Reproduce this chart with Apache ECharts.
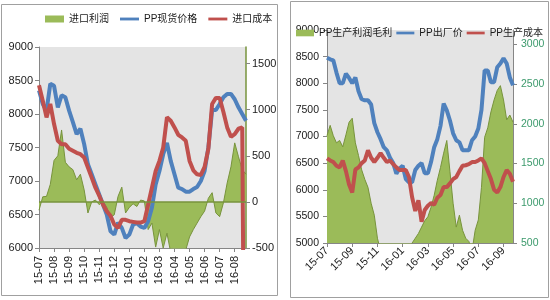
<!DOCTYPE html>
<html><head><meta charset="utf-8">
<script src="https://cdn.jsdelivr.net/npm/echarts@6/dist/echarts.min.js"></script>
<style>html,body{margin:0;padding:0;background:#fff}#c{width:550px;height:300px}</style>
</head><body><div id="c"></div>
<script>
// ---------- data ----------
const leftMonths = ['15-07','15-08','15-09','15-10','15-11','15-12','16-01','16-02','16-03','16-04','16-05','16-06','16-07','16-08'];
const rightMonths = ['15-07','15-08','15-09','15-10','15-11','15-12','16-01','16-02','16-03','16-04','16-05','16-06','16-07','16-08','16-09'];
const pointsPerMonth = 4;

// left panel (weekly)
const importProfit = [-90,55,60,190,450,500,780,430,380,350,240,300,130,-120,0,20,-30,10,-60,-170,-140,60,160,-120,-60,-20,-50,20,10,-300,-230,-490,-300,-500,-340,-550,-550,-520,-550,-520,-380,-300,-230,-160,-100,40,100,-120,-160,-10,205,380,640,490,350,300];
const spotPrice = [8350,8150,8050,8450,8420,8100,8280,8250,8050,7880,7700,7780,7550,7250,7100,6950,6800,6650,6500,6250,6200,6380,6300,6150,6200,6350,6370,6320,6300,6400,6600,6950,7150,7400,7570,7300,7100,6900,6880,6840,6840,6880,6910,7000,7150,7500,8060,8060,8150,8250,8300,8300,8220,8100,8000,7900];
const importCost = [8430,8200,7950,8150,7850,7600,7550,7550,7480,7450,7420,7400,7350,7200,7050,6900,6780,6650,6550,6480,6350,6300,6420,6420,6400,6390,6380,6380,6400,6650,6900,7150,7300,7500,7950,7900,7800,7690,7650,7600,7300,7160,7100,7090,7210,7480,8150,8240,8240,8030,7800,7660,7700,7780,7800,0];

// right panel (weekly)
const prodProfit = [1850,1980,1850,1760,1790,1710,1860,2020,2070,1760,1600,1420,1300,1200,1000,850,560,400,300,250,200,250,200,300,350,300,400,500,560,620,700,780,830,950,1100,1290,1450,1630,1790,1400,1000,700,850,660,560,520,400,660,790,1200,1830,1950,2150,2300,2420,2480,2300,2050,2110,2020];
const exWorksPrice = [8480,8450,8430,8200,8000,8000,8180,8100,8000,8110,7850,7700,7680,7680,7600,7250,7080,6950,6800,6740,6600,6500,6300,6400,6450,6200,6140,6140,6370,6450,6500,6310,6310,6520,6800,6950,7200,7620,7490,7300,7060,6930,6890,6740,6740,6740,6930,7000,7150,7500,8240,8240,8020,8020,8300,8370,8470,8370,8110,7960];
const prodCost = [6590,6550,6520,6450,6420,6550,6350,6100,5950,6380,6420,6500,6550,6740,6600,6520,6600,6690,6600,6520,6550,6480,6420,6370,6370,6370,6240,5860,5600,5800,5400,5620,5700,5750,5720,5850,5900,6050,6050,6120,6200,6240,6350,6450,6460,6480,6520,6520,6550,6590,6500,6350,6200,6000,5950,6050,6240,6370,6300,6150];

// axis ticks
const leftYTicks = {min:6000, max:9000, interval:500};
const leftY2Ticks = {min:-500, max:1680, interval:500};
const rightYTicks = {min:5000, max:9000, interval:500};
const rightY2Ticks = {min:500, max:3180, interval:500};

// ---------- build ----------
const mkCats = (months, n) => months.flatMap(m => Array.from({length:pointsPerMonth},(_,k)=>m+'|'+k)).slice(0,n);
const leftCats = mkCats(leftMonths, importProfit.length);
const rightCats = mkCats(rightMonths, prodProfit.length);

const FONT = '"Liberation Sans", Arial, "Noto Sans CJK SC", sans-serif';
const GREEN = '#9bbb59', GREEN_D = '#77933c', BLUE = '#4f81bd', RED = '#c0504d';
const TXT = '#1a1a1a';
const lineIcon = 'path://M0,0H20V3H0Z';
const rectIcon = 'path://M0,0H19V7H0Z';
const plain = v => String(v);

const chart = echarts.init(document.getElementById('c'), null, {renderer:'canvas'});
const yAxisBase = (t, pos, grid, labelExtra, extra) => Object.assign({
  type:'value', gridIndex:grid, position:pos, min:t.min, max:t.max, interval:t.interval,
  splitLine:{show:false},
  axisLine:{show:true, lineStyle:{color:'#868686', width:1}},
  axisTick:{show:true, inside:false, length:4, lineStyle:{color:'#868686'}},
  axisLabel:Object.assign({color:TXT, fontSize:11, fontFamily:FONT, margin:6, formatter:plain}, labelExtra||{})
}, extra||{});

chart.setOption({
  animation:false,
  backgroundColor:'#fff',
  textStyle:{fontFamily:FONT},
  graphic:[
    {type:'rect', shape:{x:1.5,y:4.5,width:276,height:291}, style:{fill:'none', stroke:'#a0a0a0', lineWidth:1}, z:-10},
    {type:'rect', shape:{x:290.5,y:1.5,width:258,height:296}, style:{fill:'none', stroke:'#a0a0a0', lineWidth:1}, z:-10}
  ],
  legend:[
    {left:45, top:14, width:240, itemWidth:19, itemHeight:8, itemGap:11, padding:0,
     textStyle:{fontSize:10, color:TXT, fontFamily:FONT},
     data:[{name:'进口利润', icon:rectIcon},{name:'PP现货价格', icon:lineIcon},{name:'进口成本', icon:lineIcon}]},
    {left:296, top:28, width:300, itemWidth:18, itemHeight:8, itemGap:4, padding:0,
     textStyle:{fontSize:10, color:TXT, fontFamily:FONT},
     data:[{name:'PP生产利润毛利', icon:rectIcon},{name:'PP出厂价', icon:lineIcon},{name:'PP生产成本', icon:lineIcon}]}
  ],
  grid:[
    {left:39, right:304, top:47, bottom:52, show:true, backgroundColor:'#e4e4e4', borderWidth:0, containLabel:false, outerBoundsMode:'none'},
    {left:327, right:37, top:30, bottom:57, show:true, backgroundColor:'#e4e4e4', borderWidth:0, containLabel:false, outerBoundsMode:'none'}
  ],
  xAxis:[
    {type:'category', gridIndex:0, data:leftCats, boundaryGap:false,
     axisLine:{lineStyle:{color:'#868686'}, onZero:false},
     axisTick:{show:true, length:4, interval:(i)=>i%pointsPerMonth===0, lineStyle:{color:'#868686'}},
     axisLabel:{rotate:90, interval:(i)=>i%pointsPerMonth===0, formatter:v=>v.split('|')[0], color:TXT, fontSize:11, fontFamily:FONT, margin:8}},
    {type:'category', gridIndex:1, data:rightCats, boundaryGap:false,
     axisLine:{lineStyle:{color:'#868686'}, onZero:false},
     axisTick:{show:true, length:4, interval:(i)=>i%(pointsPerMonth*2)===0, lineStyle:{color:'#868686'}},
     axisLabel:{rotate:45, interval:(i)=>i%(pointsPerMonth*2)===0, formatter:v=>v.split('|')[0], color:TXT, fontSize:11, fontFamily:FONT, margin:6}}
  ],
  yAxis:[
    yAxisBase(leftYTicks,'left',0),
    yAxisBase(leftY2Ticks,'right',0,{showMaxLabel:false},{axisLine:{show:true,lineStyle:{color:GREEN_D,width:1.5}}}),
    yAxisBase(rightYTicks,'left',1,{fontSize:10.5, margin:8}),
    yAxisBase(rightY2Ticks,'right',1,{color:'#3c9a6c', fontSize:10.5, margin:8, showMaxLabel:false})
  ],
  series:[
    {name:'进口利润', type:'line', xAxisIndex:0, yAxisIndex:1, data:importProfit, symbol:'none',
     lineStyle:{color:GREEN_D, width:1}, itemStyle:{color:GREEN}, areaStyle:{color:GREEN, opacity:1},
     markLine:{silent:true, symbol:'none', label:{show:false}, lineStyle:{color:GREEN_D, width:1.5, type:'solid'}, data:[{yAxis:0}]}, z:1},
    {name:'PP现货价格', type:'line', xAxisIndex:0, yAxisIndex:0, data:spotPrice, symbol:'none',
     lineStyle:{color:BLUE, width:4}, itemStyle:{color:BLUE}, z:2},
    {name:'进口成本', type:'line', xAxisIndex:0, yAxisIndex:0, data:importCost, symbol:'none',
     lineStyle:{color:RED, width:4}, itemStyle:{color:RED}, z:3},
    {name:'PP生产利润毛利', type:'line', xAxisIndex:1, yAxisIndex:3, data:prodProfit, symbol:'none',
     lineStyle:{color:GREEN_D, width:1}, itemStyle:{color:GREEN}, areaStyle:{color:GREEN, opacity:1}, z:1},
    {name:'PP出厂价', type:'line', xAxisIndex:1, yAxisIndex:2, data:exWorksPrice, symbol:'none',
     lineStyle:{color:BLUE, width:4}, itemStyle:{color:BLUE}, z:2},
    {name:'PP生产成本', type:'line', xAxisIndex:1, yAxisIndex:2, data:prodCost, symbol:'none',
     lineStyle:{color:RED, width:4}, itemStyle:{color:RED}, z:3}
  ]
});
</script></body></html>
